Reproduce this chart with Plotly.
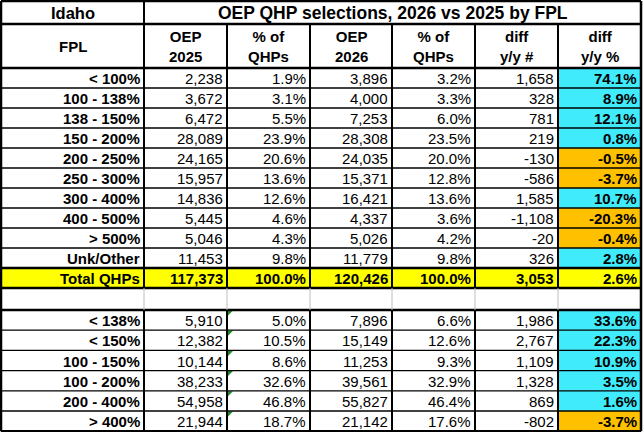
import plotly.graph_objects as go

fpl_bands = ['< 100%', '100 - 138%', '138 - 150%', '150 - 200%', '200 - 250%',
             '250 - 300%', '300 - 400%', '400 - 500%', '> 500%', 'Unk/Other']
oep_2025 = [2238, 3672, 6472, 28089, 24165, 15957, 14836, 5445, 5046, 11453]
pct_2025 = [1.9, 3.1, 5.5, 23.9, 20.6, 13.6, 12.6, 4.6, 4.3, 9.8]
oep_2026 = [3896, 4000, 7253, 28308, 24035, 15371, 16421, 4337, 5026, 11779]
pct_2026 = [3.2, 3.3, 6.0, 23.5, 20.0, 12.8, 13.6, 3.6, 4.2, 9.8]
diff_num = [1658, 328, 781, 219, -130, -586, 1585, -1108, -20, 326]
diff_pct = [74.1, 8.9, 12.1, 0.8, -0.5, -3.7, 10.7, -20.3, -0.4, 2.8]

total_row = ['Total QHPs', 117373, 100.0, 120426, 100.0, 3053, 2.6]

group_bands = ['< 138%', '< 150%', '100 - 150%', '100 - 200%', '200 - 400%', '> 400%']
grp_2025 = [5910, 12382, 10144, 38233, 54958, 21944]
grp_pct_2025 = [5.0, 10.5, 8.6, 32.6, 46.8, 18.7]
grp_2026 = [7896, 15149, 11253, 39561, 55827, 21142]
grp_pct_2026 = [6.6, 12.6, 9.3, 32.9, 46.4, 17.6]
grp_diff_num = [1986, 2767, 1109, 1328, 869, -802]
grp_diff_pct = [33.6, 22.3, 10.9, 3.5, 1.6, -3.7]

col_heads = ['FPL', 'OEP<br>2025', '% of<br>QHPs', 'OEP<br>2026', '% of<br>QHPs',
             'diff<br>y/y #', 'diff<br>y/y %']
state = 'Idaho'
title = 'OEP QHP selections, 2026 vs 2025 by FPL'

# ---- layout grid (pixels) ----
W, H = 643, 432
col_x = [1, 144, 227, 310, 392, 475, 558, 641]
row_h = [23, 44] + [20] * 11 + [22] + [20.2] * 6
row_y = [1]
for h in row_h:
    row_y.append(row_y[-1] + h)

FONT = 'Liberation Sans, Arial, sans-serif'
CYAN = '#40ECFC'
ORANGE = '#FFC000'
YELLOW = '#FFFF00'
GRID_GRAY = '#BDBDBD'
SIZE = 15


def fmt_n(v):
    return f'{v:,}'


def fmt_p(v):
    return f'{v:.1f}%'


fig = go.Figure()
shapes = []
annos = []


def fill(c, r, color):
    shapes.append(dict(type='rect', xref='x', yref='y', layer='below',
                       x0=col_x[c], x1=col_x[c + 1], y0=row_y[r], y1=row_y[r + 1],
                       fillcolor=color, line=dict(width=0)))


def txt(c, r, s, bold=False, align='right', size=SIZE, span=1):
    x0, x1 = col_x[c], col_x[c + span]
    if align == 'right':
        x, anchor = x1 - 2, 'right'
    else:
        x, anchor = (x0 + x1) / 2, 'center'
    annos.append(dict(x=x, y=(row_y[r] + row_y[r + 1]) / 2 + 0.5, xref='x', yref='y',
                      text=f'<b>{s}</b>' if bold else s, showarrow=False,
                      xanchor=anchor, yanchor='middle', align='center',
                      font=dict(family=FONT, size=size, color='black')))


def hline(y, x0, x1, w, color='black'):
    shapes.append(dict(type='line', xref='x', yref='y', x0=x0, x1=x1, y0=y, y1=y,
                       line=dict(color=color, width=w)))


def vline(x, y0, y1, w, color='black'):
    shapes.append(dict(type='line', xref='x', yref='y', x0=x, x1=x, y0=y0, y1=y1,
                       line=dict(color=color, width=w)))


# headers
txt(0, 0, state, bold=True, align='center', size=16.5)
txt(1, 0, title, bold=True, align='center', size=17.5, span=6)
for c, h in enumerate(col_heads):
    txt(c, 1, h, bold=True, align='center', size=15)

# top section rows
for i, band in enumerate(fpl_bands):
    r = 2 + i
    txt(0, r, band, bold=True)
    txt(1, r, fmt_n(oep_2025[i]))
    txt(2, r, fmt_p(pct_2025[i]))
    txt(3, r, fmt_n(oep_2026[i]))
    txt(4, r, fmt_p(pct_2026[i]))
    txt(5, r, fmt_n(diff_num[i]))
    fill(6, r, CYAN if diff_pct[i] >= 0 else ORANGE)
    txt(6, r, fmt_p(diff_pct[i]), bold=True)

# total row
r_tot = 2 + len(fpl_bands)
for c in range(7):
    fill(c, r_tot, YELLOW)
vals = total_row
txt(0, r_tot, vals[0], bold=True)
txt(1, r_tot, fmt_n(vals[1]), bold=True)
txt(2, r_tot, fmt_p(vals[2]), bold=True)
txt(3, r_tot, fmt_n(vals[3]), bold=True)
txt(4, r_tot, fmt_p(vals[4]), bold=True)
txt(5, r_tot, fmt_n(vals[5]), bold=True)
txt(6, r_tot, fmt_p(vals[6]), bold=True)

# bottom section rows
r_gap = r_tot + 1
for i, band in enumerate(group_bands):
    r = r_gap + 1 + i
    txt(0, r, band, bold=True)
    txt(1, r, fmt_n(grp_2025[i]))
    txt(2, r, fmt_p(grp_pct_2025[i]))
    txt(3, r, fmt_n(grp_2026[i]))
    txt(4, r, fmt_p(grp_pct_2026[i]))
    txt(5, r, fmt_n(grp_diff_num[i]))
    fill(6, r, CYAN if grp_diff_pct[i] >= 0 else ORANGE)
    txt(6, r, fmt_p(grp_diff_pct[i]), bold=True)
    # excel's little green error marker
    x0, y0 = col_x[2] + 1, row_y[r] + 0.5
    shapes.append(dict(type='path', xref='x', yref='y',
                       path=f'M {x0},{y0} L {x0 + 5},{y0} L {x0},{y0 + 5} Z',
                       fillcolor='#1E8C2E', line=dict(width=0)))

# grid lines
x_left, x_right = col_x[0], col_x[-1]
for r in range(3, r_tot):
    hline(row_y[r], x_left, x_right, 1.3)
for r in range(r_gap + 2, len(row_h)):
    hline(row_y[r], x_left, x_right, 1.3)
for r in [0, 1, 2, r_tot, r_gap, r_gap + 1, len(row_h)]:
    hline(row_y[r], x_left, x_right, 2.5)

for c in range(1, 7):
    vline(col_x[c], row_y[1], row_y[r_gap], 2)
    vline(col_x[c], row_y[r_gap], row_y[r_gap + 1], 1, GRID_GRAY)
    vline(col_x[c], row_y[r_gap + 1], row_y[-1], 2)
vline(col_x[1], row_y[0], row_y[1], 2)
vline(x_left, row_y[0], row_y[-1], 2.5)
vline(x_right, row_y[0], row_y[-1], 2.5)

fig.update_layout(
    width=W, height=H,
    margin=dict(l=0, r=0, t=0, b=0),
    paper_bgcolor='white', plot_bgcolor='white',
    xaxis=dict(range=[0, W], visible=False, fixedrange=True),
    yaxis=dict(range=[H, 0], visible=False, fixedrange=True),
    shapes=shapes, annotations=annos,
    showlegend=False,
)

# the page body has a default 8px margin; drop it so the table sits flush
fig.write_html('out.html', config={'displayModeBar': False},
               post_script="document.body.style.margin='0';")
